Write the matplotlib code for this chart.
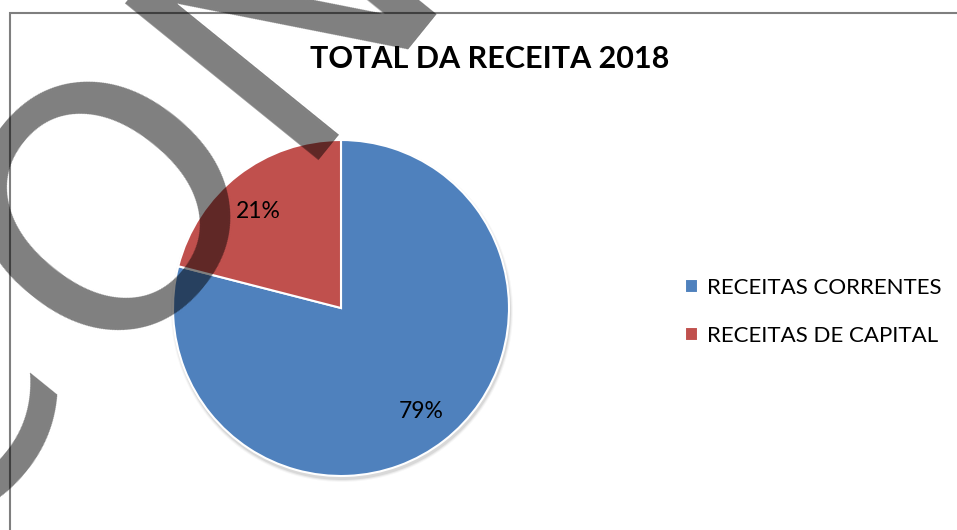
import matplotlib
matplotlib.use("Agg")
import matplotlib.pyplot as plt
from matplotlib.patches import Circle, Rectangle

title = "TOTAL DA RECEITA 2018"
categories = ["RECEITAS CORRENTES", "RECEITAS DE CAPITAL"]
shares = [79, 21]
colors = ["#4F81BD", "#C0504D"]
watermark = ["C", "O", "N"]

W, H = 957, 530
plt.rcParams["font.family"] = ["Lato", "DejaVu Sans"]

fig = plt.figure(figsize=(W / 100, H / 100), dpi=100)
ax = fig.add_axes([0, 0, 1, 1])

cx, cy, r = 341, H - 308, 168

# sombra suave sob a pizza
for k, a in enumerate([0.07, 0.05, 0.03]):
    ax.add_patch(Circle((cx + 1, cy - 3), r + 1 + k, color="black", alpha=a, lw=0, zorder=0.5))

wedges, texts, autotexts = ax.pie(
    shares, colors=colors, startangle=90, counterclock=False,
    center=(cx, cy), radius=r, autopct="%.0f%%", pctdistance=0.78,
    wedgeprops=dict(edgecolor="white", linewidth=1.5),
    textprops=dict(fontsize=16.5, color="black"))
autotexts[1].set_position((autotexts[1].get_position()[0] - 2,
                           autotexts[1].get_position()[1] - 7))

ax.set_xlim(0, W)
ax.set_ylim(0, H)
ax.set_aspect("equal")
ax.axis("off")

fig.text(490 / W, 1 - 59 / H, title, ha="center", va="center",
         fontsize=22, fontweight="bold")

ax.legend(wedges, categories, loc="center left",
          bbox_to_anchor=(665 / W, 1 - 312 / H), frameon=False,
          fontsize=16, handlelength=0.6, handleheight=0.6,
          handletextpad=0.4, labelspacing=1.25)

# moldura do grafico (cortada a direita e em baixo)
ax.add_patch(Rectangle((10, -10), W, H - 13 + 10, fill=False,
                       edgecolor="#7f7f7f", lw=1.5, zorder=5))

# marca d'agua
wm_pos = [(-70, 410), (120, 210), (293, 2)]
for letter, (x, y) in zip(watermark, wm_pos):
    ax.text(x, H - y, letter, rotation=51, rotation_mode="anchor",
            ha="center", va="center", fontsize=245, family="DejaVu Sans",
            color="black", alpha=0.5, zorder=10, clip_on=False)

fig.savefig("out.png", dpi=100)
